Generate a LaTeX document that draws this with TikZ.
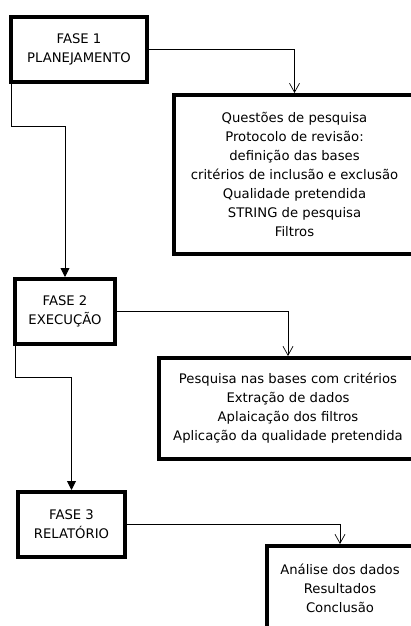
\documentclass[tikz,border=0pt]{standalone}
\usepackage{fontspec}
\setmainfont{DejaVu Sans}
\usepackage{tikz}
\usetikzlibrary{arrows.meta,calc,positioning}
\tikzstyle{fase}  =[draw, line width=4pt, align=center,
                    minimum height=65pt, inner sep=0pt]
\tikzstyle{desc}  =[draw, line width=4pt, align=center,
                    inner sep=0pt]
\tikzstyle{edge}  =[line width=0.7pt, -{Straight Barb[length=9pt,width=10pt,line width=0.7pt]}]
\tikzstyle{flow}  =[line width=0.9pt, -{Triangle[length=9pt,width=9pt]}]

\begin{document}
\begin{tikzpicture}[x=1pt,y=-1pt,
    font=\fontsize{13.2}{19}\selectfont]

    \useasboundingbox (0,0) rectangle (411,626);
    \clip (0,0) rectangle (411,626);

    % fases
    \node (fase1) [fase, minimum width=136pt] at (79,49.5)
        {FASE 1\\PLANEJAMENTO};
    \node (fase2) [fase, minimum width=100pt] at (65,311.5)
        {FASE 2\\EXECUÇÃO};
    \node (fase3) [fase, minimum width=107pt] at (71.5,524.5)
        {FASE 3\\RELATÓRIO};

    % descricoes
    \node (desc1) [desc, minimum width=241pt, minimum height=159pt] at (294.5,174.5)
        {Questões de pesquisa\\Protocolo de revisão:\\definição das bases\\
         critérios de inclusão e exclusão\\Qualidade pretendida\\
         STRING de pesquisa\\Filtros};
    \node (desc2) [desc, minimum width=258pt, minimum height=101pt] at (288,408.5)
        {Pesquisa nas bases com critérios\\Extração de dados\\
         Aplaicação dos filtros\\Aplicação da qualidade pretendida};
    \node (desc3) [desc, minimum width=146pt, minimum height=84pt] at (340,588)
        {Análise dos dados\\Resultados\\Conclusão};

    \foreach \i in {1,2,3}
        \draw [edge] (fase\i.east) -| (desc\i.north);

    \draw [flow] ([xshift=2pt]fase1.south west) -- ++(0,42) -| (fase2.north);
    \draw [flow] ([xshift=2pt]fase2.south west) -- ++(0,31) -| (fase3.north);

\end{tikzpicture}
\end{document}
